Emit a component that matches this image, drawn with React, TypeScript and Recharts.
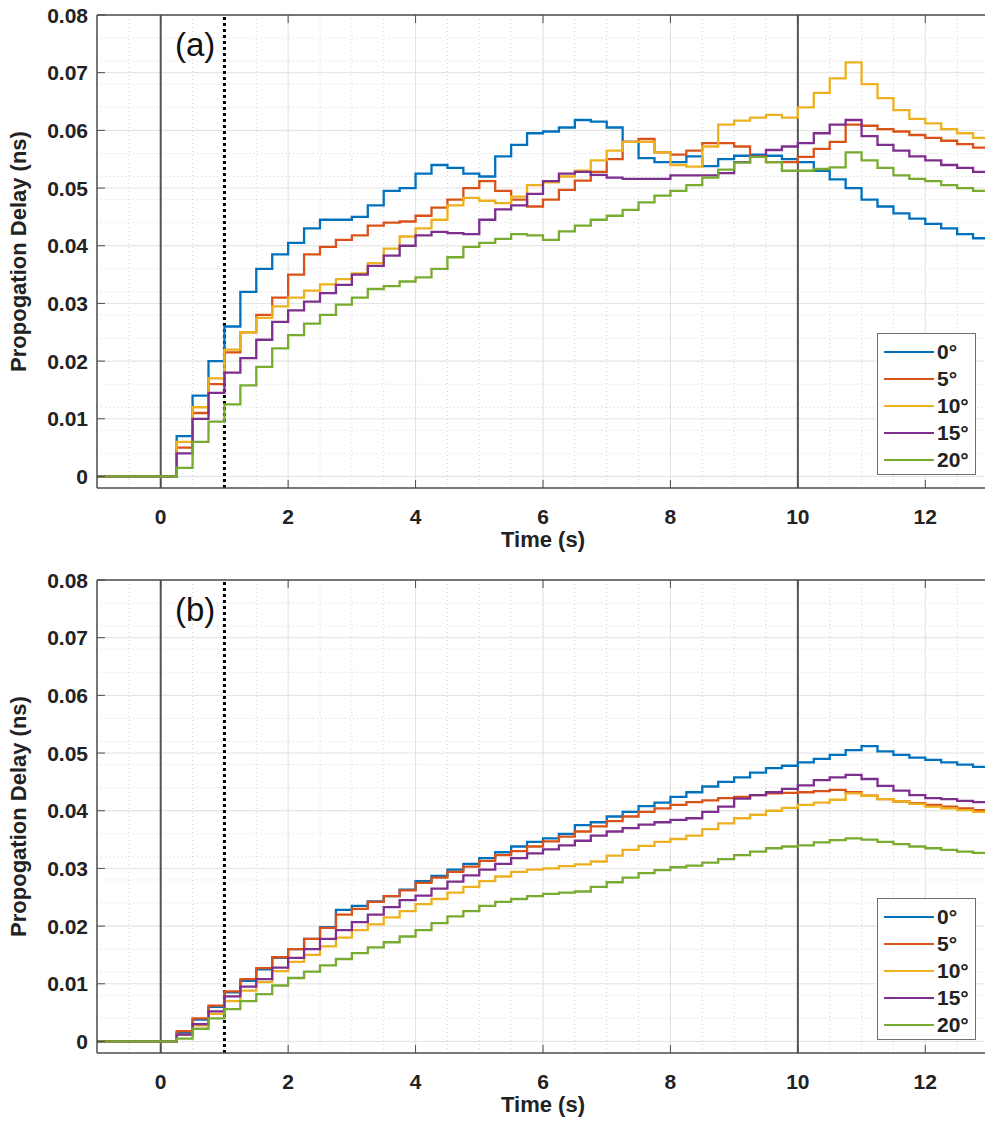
import React from "react";
import {
  LineChart,
  Line,
  XAxis,
  YAxis,
  CartesianGrid,
  ReferenceLine,
  Legend,
} from "recharts";

// time samples (s)
const TIME = [
  -1, 0,
  0.25, 0.5, 0.75, 1, 1.25, 1.5, 1.75, 2, 2.25, 2.5, 2.75, 3,
  3.25, 3.5, 3.75, 4, 4.25, 4.5, 4.75, 5, 5.25, 5.5, 5.75, 6,
  6.25, 6.5, 6.75, 7, 7.25, 7.5, 7.75, 8, 8.25, 8.5, 8.75, 9,
  9.25, 9.5, 9.75, 10, 10.25, 10.5, 10.75, 11, 11.25, 11.5, 11.75, 12,
  12.25, 12.5, 12.75, 13,
];

const ANGLES = ["0°", "5°", "10°", "15°", "20°"];
const COLORS = ["#0072BD", "#D95319", "#EDB120", "#7E2F8E", "#77AC30"];

// panel (a)
const A_0 = [
  0, 0,
  0.007, 0.014, 0.02, 0.026, 0.032, 0.036, 0.0385, 0.0405, 0.043, 0.0445, 0.0445, 0.045,
  0.047, 0.0495, 0.05, 0.0525, 0.054, 0.0535, 0.0525, 0.052, 0.0555, 0.0575, 0.0595, 0.0598,
  0.0605, 0.0618, 0.0615, 0.0605, 0.058, 0.0552, 0.0545, 0.0545, 0.0555, 0.0538, 0.055, 0.0556,
  0.0558, 0.0556, 0.055, 0.0545, 0.053, 0.0515, 0.05, 0.048, 0.0468, 0.0456, 0.0447, 0.0438,
  0.043, 0.042, 0.0413, 0.0408,
];
const A_5 = [
  0, 0,
  0.005, 0.011, 0.016, 0.0215, 0.025, 0.028, 0.031, 0.035, 0.0385, 0.0398, 0.041, 0.0418,
  0.0435, 0.044, 0.0442, 0.0452, 0.0466, 0.048, 0.05, 0.0512, 0.0495, 0.048, 0.0468, 0.048,
  0.0497, 0.0513, 0.0528, 0.055, 0.058, 0.0585, 0.0562, 0.0558, 0.0565, 0.0578, 0.0578, 0.0572,
  0.0555, 0.0545, 0.0545, 0.0554, 0.0568, 0.058, 0.061, 0.0608, 0.0602, 0.0598, 0.0592, 0.0587,
  0.0582, 0.0576, 0.057, 0.0565,
];
const A_10 = [
  0, 0,
  0.006, 0.012, 0.017, 0.022, 0.025, 0.0275, 0.0295, 0.031, 0.0322, 0.0333, 0.0342, 0.0352,
  0.037, 0.0395, 0.0416, 0.043, 0.0445, 0.047, 0.0483, 0.0478, 0.0474, 0.0485, 0.0505, 0.051,
  0.052, 0.053, 0.0548, 0.0565, 0.058, 0.058, 0.0562, 0.054, 0.0537, 0.0572, 0.061, 0.0617,
  0.0622, 0.0627, 0.0622, 0.064, 0.0665, 0.069, 0.0718, 0.068, 0.0656, 0.0635, 0.062, 0.0612,
  0.0602, 0.0595, 0.0587, 0.058,
];
const A_15 = [
  0, 0,
  0.004, 0.01, 0.0145, 0.018, 0.0205, 0.0237, 0.0268, 0.0288, 0.0303, 0.0318, 0.0332, 0.035,
  0.0365, 0.0383, 0.04, 0.0418, 0.0424, 0.0422, 0.042, 0.0445, 0.0463, 0.047, 0.049, 0.0512,
  0.0525, 0.0528, 0.0523, 0.0518, 0.0516, 0.0516, 0.0516, 0.0522, 0.0522, 0.0522, 0.0526, 0.0545,
  0.0555, 0.0566, 0.0572, 0.0578, 0.0595, 0.061, 0.0618, 0.059, 0.0575, 0.0565, 0.0555, 0.0548,
  0.054, 0.0535, 0.0528, 0.0522,
];
const A_20 = [
  0, 0,
  0.0015, 0.006, 0.0095, 0.0125, 0.0158, 0.019, 0.0222, 0.0245, 0.0265, 0.028, 0.0298, 0.031,
  0.0325, 0.033, 0.0338, 0.0345, 0.036, 0.038, 0.0398, 0.0405, 0.0412, 0.042, 0.0418, 0.041,
  0.0425, 0.0435, 0.0445, 0.0452, 0.0462, 0.0475, 0.0487, 0.0495, 0.0505, 0.0518, 0.0532, 0.0544,
  0.0554, 0.0545, 0.053, 0.053, 0.0533, 0.0536, 0.0562, 0.0548, 0.0535, 0.0522, 0.0516, 0.0512,
  0.0505, 0.05, 0.0495, 0.049,
];

// panel (b)
const B_0 = [
  0, 0,
  0.0015, 0.0038, 0.006, 0.0085, 0.0105, 0.0125, 0.0145, 0.016, 0.0178, 0.0198, 0.0228, 0.0235,
  0.0243, 0.0252, 0.0263, 0.0278, 0.0287, 0.0298, 0.0308, 0.0318, 0.0328, 0.0338, 0.0346, 0.0352,
  0.036, 0.0375, 0.038, 0.039, 0.0398, 0.0408, 0.0414, 0.0424, 0.0432, 0.0442, 0.045, 0.0458,
  0.0466, 0.0474, 0.0478, 0.0484, 0.049, 0.0497, 0.0505, 0.0512, 0.0503, 0.0497, 0.0492, 0.0488,
  0.0484, 0.048, 0.0476, 0.0472,
];
const B_5 = [
  0, 0,
  0.0018, 0.004, 0.0062, 0.0087, 0.0108, 0.0127, 0.0146, 0.016, 0.0178, 0.0197, 0.022, 0.023,
  0.0242, 0.0252, 0.0262, 0.0275, 0.0284, 0.0294, 0.0303, 0.0313, 0.0323, 0.033, 0.0338, 0.0347,
  0.0355, 0.0364, 0.0373, 0.0382, 0.039, 0.0398, 0.0404, 0.041, 0.0415, 0.0418, 0.0422, 0.0424,
  0.0427, 0.043, 0.0431, 0.0432, 0.0434, 0.0436, 0.0432, 0.0426, 0.042, 0.0416, 0.0413, 0.041,
  0.0407, 0.0404, 0.0401, 0.0398,
];
const B_10 = [
  0, 0,
  0.0012, 0.0028, 0.0048, 0.007, 0.0088, 0.0103, 0.0122, 0.0138, 0.015, 0.0165, 0.018, 0.0193,
  0.0203, 0.0215, 0.0226, 0.0238, 0.0247, 0.0258, 0.0268, 0.0278, 0.0286, 0.0294, 0.0298, 0.03,
  0.0304, 0.0307, 0.0312, 0.0322, 0.0332, 0.0339, 0.0346, 0.0351, 0.0357, 0.0368, 0.0378, 0.0387,
  0.0393, 0.04, 0.0405, 0.041, 0.0414, 0.0419, 0.043, 0.0426, 0.042, 0.0416, 0.0412, 0.0407,
  0.0404, 0.0401, 0.0398, 0.0396,
];
const B_15 = [
  0, 0,
  0.0012, 0.003, 0.0052, 0.0078, 0.0095, 0.0108, 0.0128, 0.0145, 0.016, 0.0178, 0.0193, 0.0207,
  0.022, 0.0233, 0.0245, 0.0253, 0.0265, 0.0277, 0.0288, 0.0298, 0.0308, 0.0318, 0.0326, 0.0333,
  0.034, 0.0348, 0.0357, 0.0364, 0.037, 0.0376, 0.038, 0.0384, 0.0387, 0.0398, 0.0407, 0.0421,
  0.0427, 0.0432, 0.0438, 0.0444, 0.0453, 0.0458, 0.0462, 0.0455, 0.0443, 0.0435, 0.0427, 0.0422,
  0.042, 0.0417, 0.0415, 0.0412,
];
const B_20 = [
  0, 0,
  0.0005, 0.0022, 0.004, 0.0056, 0.007, 0.0082, 0.0097, 0.011, 0.0121, 0.0132, 0.0143, 0.0153,
  0.0163, 0.0172, 0.0182, 0.0193, 0.0205, 0.0217, 0.0226, 0.0235, 0.0242, 0.0247, 0.0252, 0.0256,
  0.0258, 0.026, 0.0268, 0.0276, 0.0284, 0.0292, 0.0297, 0.0302, 0.0305, 0.031, 0.0316, 0.0323,
  0.0329, 0.0335, 0.0338, 0.034, 0.0345, 0.0349, 0.0352, 0.035, 0.0346, 0.0342, 0.0338, 0.0335,
  0.0332, 0.0329, 0.0327, 0.0325,
];

const X_TICKS = [0, 2, 4, 6, 8, 10, 12];
const Y_TICKS = [0, 0.01, 0.02, 0.03, 0.04, 0.05, 0.06, 0.07, 0.08];
// minor grid every 0.5 s and 0.002 ns
const MINOR_X = Array.from({ length: 29 }, (_, i) => -1 + i * 0.5);
const MINOR_Y = Array.from({ length: 41 }, (_, i) => +(i * 0.002).toFixed(3));

const FONT = "'Liberation Sans', Arial, sans-serif";
const W = 1000;
const H = 560;
const PLOT_H = 473;
const AXIS = "#4d4d4d";

function buildRows(series: number[][]) {
  return TIME.map((t, i) => {
    const row: Record<string, number> = { t };
    series.forEach((s, k) => {
      row["s" + k] = s[i];
    });
    return row;
  });
}

const XTick = (props: any) => {
  const { x, y, payload } = props;
  return (
    <g>
      <line x1={x} x2={x} y1={y} y2={y - 8} stroke={AXIS} />
      <line x1={x} x2={x} y1={y - PLOT_H} y2={y - PLOT_H + 8} stroke={AXIS} />
      <text x={x} y={y + 36} textAnchor="middle" fontFamily={FONT} fontWeight="bold" fontSize={21} fill="#222">
        {payload.value}
      </text>
    </g>
  );
};

const YTick = (props: any) => {
  const { x, y, payload } = props;
  const v = payload.value === 0 ? "0" : Number(payload.value).toFixed(2);
  return (
    <g>
      <line x1={x} x2={x + 8} y1={y} y2={y} stroke={AXIS} />
      <text x={x - 9} y={y} dy="0.36em" textAnchor="end" fontFamily={FONT} fontWeight="bold" fontSize={21} fill="#222">
        {v}
      </text>
    </g>
  );
};

const renderLegend = (props: any) => {
  const items = [...(props.payload || [])].sort(
    (a: any, b: any) => ANGLES.indexOf(a.value) - ANGLES.indexOf(b.value)
  );
  return (
    <div
      style={{
        border: "1.5px solid #707070",
        background: "#fff",
        width: 99,
        height: 142,
        boxSizing: "border-box",
        paddingTop: 4,
        fontFamily: FONT,
        fontWeight: "bold",
        fontSize: 21,
        color: "#222",
      }}
    >
      {items.map((it: any) => (
        <div key={it.value} style={{ display: "flex", alignItems: "center", height: 27 }}>
          <span style={{ display: "inline-block", width: 50, height: 2, background: it.color, marginLeft: 6, marginRight: 3 }} />
          <span>{it.value}</span>
        </div>
      ))}
    </div>
  );
};

function Panel({ series, tag }: { series: number[][]; tag: string }) {
  const rows = buildRows(series);
  return (
    <div style={{ position: "relative", width: W, height: H }}>
      <LineChart width={W} height={H} data={rows} margin={{ top: 15, right: 11, bottom: 12, left: 0 }}>
        <CartesianGrid
          stroke="#d4d4d4"
          strokeDasharray="1 3"
          verticalValues={MINOR_X}
          horizontalValues={MINOR_Y}
        />
        <CartesianGrid stroke="#e3e3e3" verticalValues={X_TICKS} horizontalValues={Y_TICKS} />
        <XAxis
          dataKey="t"
          type="number"
          domain={[-1, 13]}
          ticks={X_TICKS}
          allowDataOverflow
          height={60}
          tickSize={0}
          tickMargin={0}
          tickLine={false}
          tick={<XTick />}
          stroke={AXIS}
          strokeWidth={1.5}
          label={{
            content: (p: any) => (
              <text
                x={p.viewBox.x + p.viewBox.width / 2}
                y={p.viewBox.y + 59}
                textAnchor="middle"
                fontFamily={FONT}
                fontWeight="bold"
                fontSize={22}
                fill="#222"
              >
                Time (s)
              </text>
            ),
          }}
        />
        <YAxis
          type="number"
          domain={[-0.002, 0.08]}
          ticks={Y_TICKS}
          allowDataOverflow
          width={97}
          tickSize={0}
          tickMargin={0}
          tickLine={false}
          tick={<YTick />}
          stroke={AXIS}
          strokeWidth={1.5}
          label={{
            content: (p: any) => {
              const cy = p.viewBox.y + p.viewBox.height / 2;
              return (
                <text
                  x={26}
                  y={cy}
                  transform={`rotate(-90, 26, ${cy})`}
                  textAnchor="middle"
                  fontFamily={FONT}
                  fontWeight="bold"
                  fontSize={22}
                  fill="#222"
                >
                  Propogation Delay (ns)
                </text>
              );
            },
          }}
        />
        <ReferenceLine y={0.08} stroke={AXIS} strokeWidth={1.5} />
        <ReferenceLine x={0} stroke="#555" strokeWidth={2} />
        <ReferenceLine x={10} stroke="#555" strokeWidth={2} />
        <ReferenceLine x={1} stroke="#000" strokeWidth={3} strokeDasharray="3 3" />
        {series.map((_, k) => (
          <Line
            key={k}
            type="stepAfter"
            dataKey={"s" + k}
            name={ANGLES[k]}
            stroke={COLORS[k]}
            strokeWidth={2.3}
            dot={false}
            isAnimationActive={false}
          />
        ))}
        <Legend
          layout="vertical"
          align="center"
          verticalAlign="middle"
          content={renderLegend}
          wrapperStyle={{ left: 877, top: 333, width: 99 }}
        />
      </LineChart>
      <div
        style={{
          position: "absolute",
          left: 175,
          top: 28,
          fontFamily: FONT,
          fontSize: 33,
          color: "#111",
          lineHeight: 1,
        }}
      >
        {tag}
      </div>
    </div>
  );
}

export default function App() {
  return (
    <div
      style={{
        position: "absolute",
        left: 0,
        top: 0,
        width: 985,
        height: 1126,
        overflow: "hidden",
        background: "#fff",
      }}
    >
      <Panel series={[A_0, A_5, A_10, A_15, A_20]} tag="(a)" />
      <div style={{ position: "absolute", left: 0, top: 565 }}>
        <Panel series={[B_0, B_5, B_10, B_15, B_20]} tag="(b)" />
      </div>
    </div>
  );
}
